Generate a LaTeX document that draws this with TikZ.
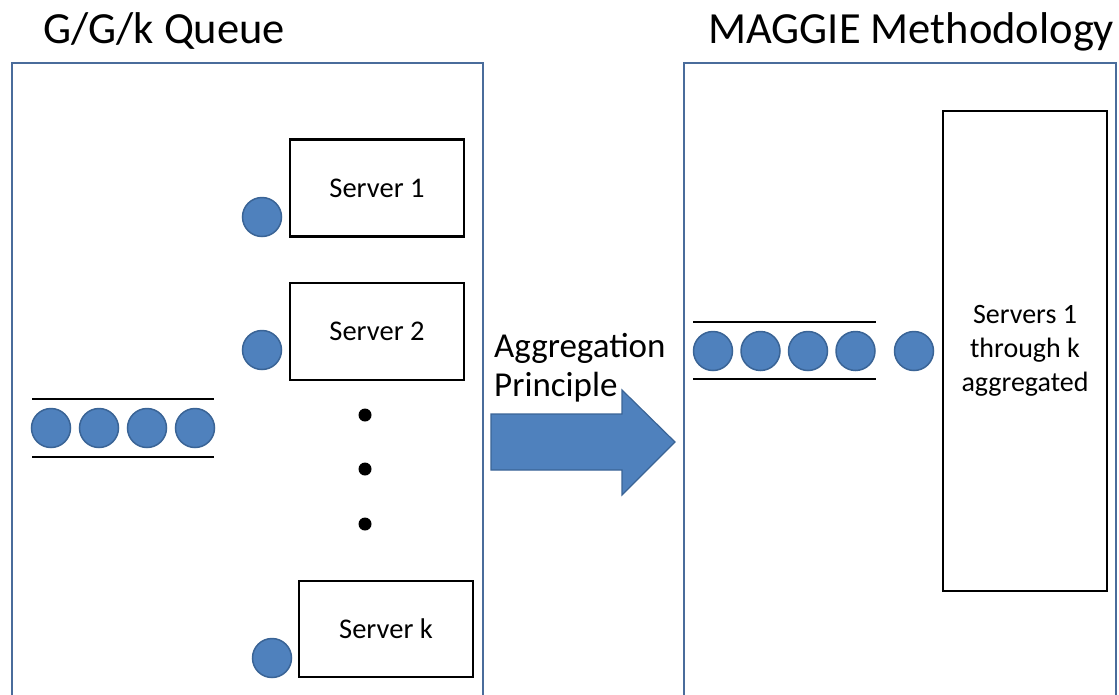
\documentclass[tikz,border=0pt]{standalone}
\usepackage{fontspec}
\setmainfont{Carlito}
\definecolor{ballfill}{HTML}{4F81BD}
\definecolor{balledge}{HTML}{3A6496}
\definecolor{panelblue}{HTML}{4A6C9B}
\begin{document}
\begin{tikzpicture}[x=1pt,y=-1pt,
  panelbox/.style={draw=panelblue, line width=2.8pt},
  title/.style={anchor=base west, inner sep=0pt, font=\fontsize{44.5}{50}\selectfont},
  label/.style={anchor=base west, inner sep=0pt, font=\fontsize{35}{40}\selectfont},
  serverbox/.style={draw=black, line width=2.5pt, fill=white, minimum width=174pt,
    minimum height=97pt, inner sep=0pt, font=\fontsize{28.5}{32}\selectfont},
  bigbox/.style={draw=black, line width=2.5pt, fill=white, minimum width=164pt,
    minimum height=480pt, inner sep=0pt, align=center, font=\fontsize{28}{34}\selectfont},
  ball/.style={circle, draw=balledge, line width=1.5pt, fill=ballfill,
    minimum size=39pt, inner sep=0pt},
  dot/.style={circle, fill=black, minimum size=13pt, inner sep=0pt},
  queueline/.style={draw=black, line width=2.5pt},
  blockarrow/.style={draw=balledge, line width=1.2pt, fill=ballfill}]

\useasboundingbox (0,0) rectangle (1119,694);
\clip (0,0) rectangle (1119,694);

% titles
\node[title] (ggktitle) at (43,43) {G/G/k Queue};
\node[title] (magtitle) at (708,43) {MAGGIE Methodology};

% the two panels (open at the bottom edge)
\draw[panelbox] (12,720) -- (12,63) -- (483,63) -- (483,720);
\draw[panelbox] (684,720) -- (684,63) -- (1116,63) -- (1116,720);

% ---- G/G/k queue: waiting line ----
\coordinate (lqtl) at (32,399);  \coordinate (lqtr) at (214,399);
\coordinate (lqbl) at (32,457);  \coordinate (lqbr) at (214,457);
\draw[queueline] (lqtl) -- (lqtr);
\draw[queueline] (lqbl) -- (lqbr);
\foreach \i/\x in {1/51,2/99,3/147,4/195}
  \node[ball] (lq\i) at (\x,428) {};

% ---- G/G/k queue: servers ----
\node[serverbox] (s1) at (377,188) {Server 1};
\node[serverbox] (s2) at (377,331.5) {Server 2};
\node[serverbox, minimum height=96pt] (sk) at (386,629) {Server k};
\node[ball] (b1) at (262,217) {};
\node[ball] (b2) at (262,350) {};
\node[ball] (bk) at (272,658) {};
\node[dot] (d1) at (365,415) {};
\node[dot] (d2) at (365,469) {};
\node[dot] (d3) at (365,524) {};

% ---- aggregation arrow ----
\draw[blockarrow] (491,414) -- (622,414) -- (622,390) -- (675,442)
  -- (622,495) -- (622,470) -- (491,470) -- cycle;
\node[label] (agg1) at (494,357) {Aggregation};
\node[label] (agg2) at (494,396) {Principle};

% ---- MAGGIE: single aggregated server ----
\coordinate (rqtl) at (693,322);  \coordinate (rqtr) at (876,322);
\coordinate (rqbl) at (693,379);  \coordinate (rqbr) at (876,379);
\draw[queueline] (rqtl) -- (rqtr);
\draw[queueline] (rqbl) -- (rqbr);
\foreach \i/\x in {1/713,2/760.5,3/808,4/855.5}
  \node[ball] (rq\i) at (\x,351) {};
\node[ball] (rin) at (914,351) {};
\node[bigbox] (agg) at (1025,351) {Servers 1\\through k\\aggregated};
\end{tikzpicture}
\end{document}
